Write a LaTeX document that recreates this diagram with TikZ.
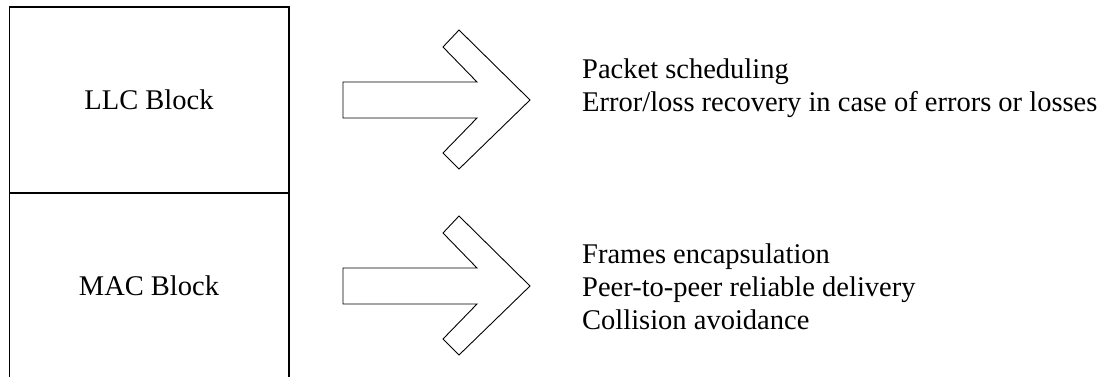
\documentclass[tikz,border=0pt]{standalone}
\usepackage{fontspec}
\setmainfont{Liberation Serif}
\begin{document}
\begin{tikzpicture}[x=1pt,y=-1pt,
  boxline/.style={line width=1.3pt},
  bigarrow/.style={draw,line width=0.9pt,line join=miter},
  blocklabel/.style={font=\fontsize{28.5}{33}\selectfont,inner sep=0pt},
  funclist/.style={font=\fontsize{28.5}{33}\selectfont,align=left,anchor=west,inner sep=0pt}]
\useasboundingbox (0,0) rectangle (1104,377);
% block frame
\draw[boxline] (9.5,377) -- (9.5,7) -- (289,7) -- (289,377);
\draw[boxline] (9.5,193) -- (289,193);
\node[blocklabel] (llc) at (149,100) {LLC Block};
\node[blocklabel] (mac) at (149,286) {MAC Block};
% arrows
\foreach \name/\oy in {a1/100,a2/286}{
  \coordinate (\name) at (343,\oy);
  \draw[bigarrow] ([shift={(0,-18)}]\name) -- ++(134,0) -- ++(-34,-35) -- ++(16,-17)
    -- ++(71,70) -- ++(-71,69) -- ++(-16,-16) -- ++(34,-35) -- ++(-134,0) -- cycle;
}
\node[funclist] (llcf) at (582,88) {Packet scheduling\\Error/loss recovery in case of errors or losses};
\node[funclist] (macf) at (582,287) {Frames encapsulation\\Peer-to-peer reliable delivery\\Collision avoidance};
\end{tikzpicture}
\end{document}
